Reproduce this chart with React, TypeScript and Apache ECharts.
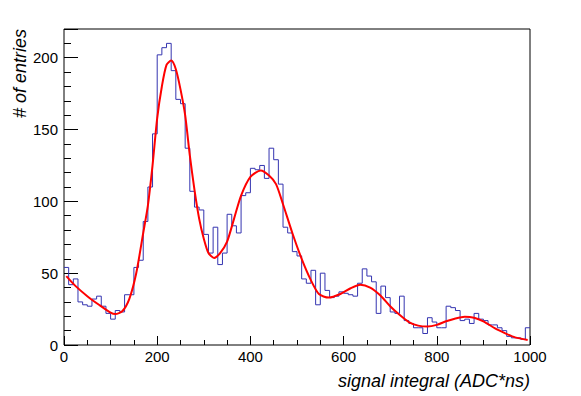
import React, { useEffect, useRef } from "react";
import * as echarts from "echarts";

// histogram: 100 bins of width 10 from 0 to 1000
const binWidth = 10;
const binCounts = [
  54, 42, 46, 30, 28, 27, 32, 34, 27, 22,
  18, 24, 23, 35, 35, 54, 59, 86, 110, 147,
  202, 207, 210, 191, 171, 168, 137, 107, 96, 94,
  77, 64, 82, 56, 64, 91, 83, 78, 104, 106,
  123, 122, 125, 116, 137, 129, 112, 82, 78, 65,
  62, 46, 43, 52, 28, 50, 38, 33, 34, 37,
  36, 35, 34, 43, 53, 48, 44, 22, 41, 33,
  23, 22, 34, 17, 15, 12, 12, 8, 19, 16,
  12, 12, 27, 26, 24, 17, 18, 15, 22, 18,
  17, 14, 14, 12, 10, 6, 5, 5, 4, 12,
];

// fit curve
const fitX = [5, 25, 50, 75, 100, 110, 125, 140, 155, 170, 180, 190, 200, 210, 220, 230, 240, 250, 260, 270, 280, 290, 300, 310, 322, 335, 350, 365, 380, 400, 422, 440, 455, 470, 490, 510, 530, 547, 568, 593, 615, 636, 657, 679, 700, 720, 740, 760, 780, 800, 820, 840, 860, 880, 900, 925, 946, 968, 995];
const fitY = [48, 41, 34, 28, 22.5, 21.5, 23.5, 32, 50, 78, 97, 125, 158, 180, 195, 198, 192, 178, 160, 132, 108, 88, 74, 64, 60.6, 64, 72, 88, 104, 117, 121.5, 118, 112, 98, 78, 60, 45, 35.5, 33, 35.5, 39.5, 42, 40, 34.5, 27, 21, 16, 13.5, 12.8, 14, 16.5, 18.5, 19.7, 19, 16.5, 11.6, 8.3, 5.3, 3.5];

const xTitle = "signal integral (ADC*ns)";
const yTitle = "# of entries";

const FONT = "'Liberation Sans', Arial, Helvetica, sans-serif";

export default function App() {
  const ref = useRef<HTMLDivElement>(null);
  useEffect(() => {
    if (!ref.current) return;
    const chart = echarts.init(ref.current, null, { renderer: "svg" });
    const histData: number[][] = binCounts.map((c, i) => [i * binWidth, c]);
    histData.push([binCounts.length * binWidth, binCounts[binCounts.length - 1]]);
    const fitData = fitX.map((x, i) => [x, fitY[i]]);
    chart.setOption({
      animation: false,
      backgroundColor: "#ffffff",
      grid: {
        left: 64,
        right: 51,
        top: 29,
        bottom: 51,
        show: true,
        borderColor: "#000",
        borderWidth: 1,
        backgroundColor: "transparent",
        containLabel: false,
      },
      xAxis: {
        type: "value",
        min: 0,
        max: 1000,
        interval: 200,
        axisLine: { show: false },
        axisTick: { show: true, inside: true, length: 9, lineStyle: { color: "#000" } },
        minorTick: { show: true, splitNumber: 4, length: 5, lineStyle: { color: "#000" } },
        splitLine: { show: false },
        axisLabel: {
          fontSize: 15,
          color: "#000",
          fontFamily: FONT,
          margin: 4,
          formatter: (v: number) => String(v),
        },
      },
      yAxis: [
        {
          type: "value",
          min: 0,
          max: 220,
          interval: 50,
          axisLine: { show: false },
          axisTick: { show: true, inside: true, length: 14, lineStyle: { color: "#000" } },
          splitLine: { show: false },
          axisLabel: {
            fontSize: 15,
            color: "#000",
            fontFamily: FONT,
            margin: 6,
            formatter: (v: number) => (v % 50 === 0 ? String(v) : ""),
          },
        },
        {
          type: "value",
          min: 0,
          max: 220,
          interval: 10,
          position: "left",
          axisLine: { show: false },
          axisTick: { show: true, inside: true, length: 7, lineStyle: { color: "#000" } },
          splitLine: { show: false },
          axisLabel: { show: false },
        },
      ],
      series: [
        {
          type: "line",
          step: "end",
          symbol: "none",
          data: histData,
          lineStyle: { color: "#3434b0", width: 1 },
          yAxisIndex: 0,
          z: 2,
        },
        {
          type: "line",
          smooth: 0.25,
          symbol: "none",
          data: fitData,
          lineStyle: { color: "#ff0000", width: 2 },
          yAxisIndex: 0,
          z: 3,
        },
      ],
      graphic: [
        {
          type: "text",
          x: 20,
          y: 29,
          rotation: Math.PI / 2,
          style: {
            text: yTitle,
            fontSize: 18,
            fontStyle: "italic",
            fontFamily: FONT,
            fill: "#000",
            align: "right",
            verticalAlign: "middle",
          },
        },
        {
          type: "text",
          x: 530,
          y: 381,
          style: {
            text: xTitle,
            fontSize: 18,
            fontStyle: "italic",
            fontFamily: FONT,
            fill: "#000",
            align: "right",
            verticalAlign: "middle",
          },
        },
      ],
    });
    return () => chart.dispose();
  }, []);
  return <div ref={ref} style={{ width: 581, height: 396, position: "absolute", left: 0, top: 0 }} />;
}
